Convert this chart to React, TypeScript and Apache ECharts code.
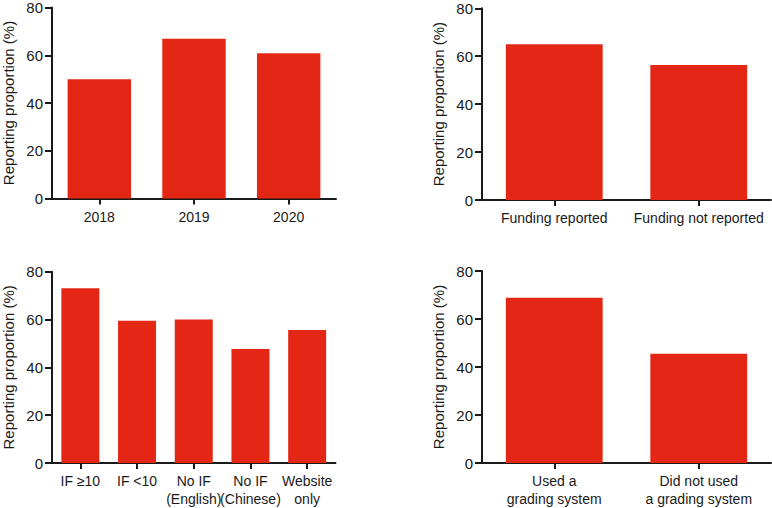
import React, { useEffect, useRef } from "react";
import * as echarts from "echarts";

const yearCats = ["2018", "2019", "2020"];
const yearVals = [50.0, 66.9, 60.8];

const fundingCats = ["Funding reported", "Funding not reported"];
const fundingVals = [65.0, 56.3];

const ifCats = ["IF \u226510", "IF <10", "No IF\n(English)", "No IF\n(Chinese)", "Website\nonly"];
const ifVals = [73.1, 59.5, 60.0, 47.7, 55.6];

const gradingCats = ["Used a\ngrading system", "Did not used\na grading system"];
const gradingVals = [68.9, 45.5];

const yTicks = { min: 0, max: 80, interval: 20 };
const yName = "Reporting proportion (%)";

const RED = "#E32714";
const INK = "#1a1a1a";
const FONT = "Liberation Sans";

export default function App() {
  const ref = useRef<HTMLDivElement>(null);
  useEffect(() => {
    document.body.style.margin = "0";
    const chart = echarts.init(ref.current!, undefined, { renderer: "svg" });
    const grids = [
      { left: 50, top: 7.5, width: 286, height: 191 },
      { left: 482, top: 8.3, width: 289, height: 191.7 },
      { left: 50.5, top: 271.7, width: 285, height: 192.3 },
      { left: 482, top: 271, width: 289, height: 192.7 },
    ];
    const cats = [yearCats, fundingCats, ifCats, gradingCats];
    const vals = [yearVals, fundingVals, ifVals, gradingVals];
    const axisLine = { show: true, lineStyle: { color: INK, width: 2 } };
    const axisTick = { show: true, length: 7, lineStyle: { color: INK, width: 2 } };
    chart.setOption({
      animation: false,
      backgroundColor: "#ffffff",
      textStyle: { fontFamily: FONT },
      grid: grids.map((g) => ({ ...g, containLabel: false })),
      xAxis: cats.map((c, i) => ({
        type: "category",
        gridIndex: i,
        data: c,
        axisLine,
        axisTick: { ...axisTick, length: 6, alignWithLabel: true },
        axisLabel: {
          color: INK,
          fontSize: 14,
          fontFamily: FONT,
          margin: 9,
          interval: 0,
          lineHeight: 18,
        },
        splitLine: { show: false },
      })),
      yAxis: cats.map((_, i) => ({
        type: "value",
        gridIndex: i,
        min: yTicks.min,
        max: yTicks.max,
        interval: yTicks.interval,
        name: yName,
        nameLocation: "middle",
        nameGap: 36,
        nameRotate: 90,
        nameTextStyle: { color: INK, fontSize: 15, fontFamily: FONT },
        axisLine,
        axisTick,
        axisLabel: { color: INK, fontSize: 15, fontFamily: FONT, margin: 9 },
        splitLine: { show: false },
      })),
      series: vals.map((v, i) => ({
        type: "bar",
        xAxisIndex: i,
        yAxisIndex: i,
        data: v,
        barCategoryGap: "33%",
        itemStyle: { color: RED },
      })),
    });
    return () => chart.dispose();
  }, []);
  return <div ref={ref} style={{ width: 772, height: 508 }} />;
}
